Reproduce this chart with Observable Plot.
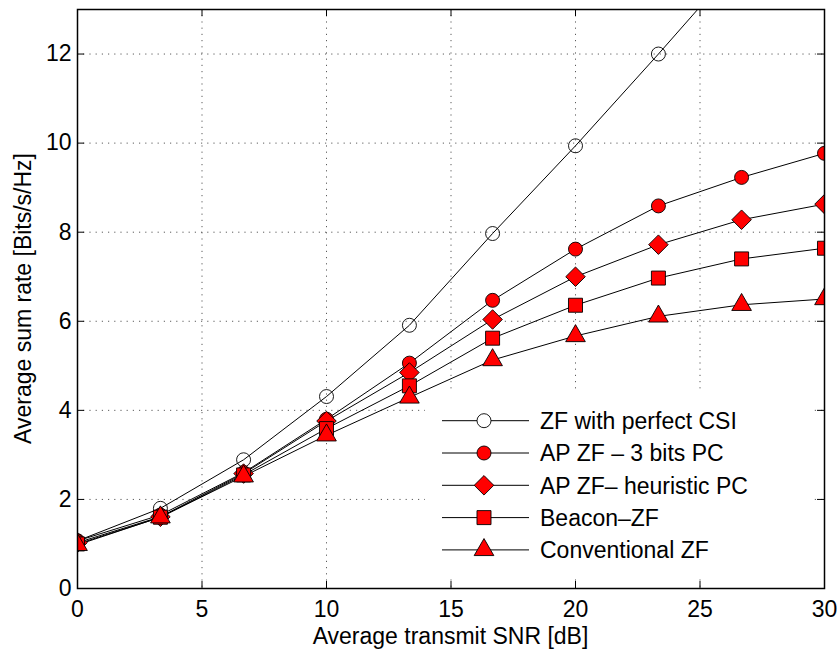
<!DOCTYPE html>
<html><head><meta charset="utf-8">
<script src="https://cdn.jsdelivr.net/npm/d3@7"></script>
<script src="https://cdn.jsdelivr.net/npm/@observablehq/plot@0.6"></script>
<style>
body{margin:0;background:#fff;}
#wrap{position:relative;width:839px;height:653px;font-family:"Liberation Sans",Arial,Helvetica,sans-serif;}
#legend{position:absolute;left:425px;top:393px;width:385px;height:184px;background:#fff;}
</style></head><body><div id="wrap"></div>
<script>
// ---- data ----
const snr = [0, 3.33, 6.67, 10, 13.33, 16.67, 20, 23.33, 26.67, 30];
const zfPerfect      = [1.07, 1.80, 2.89, 4.31, 5.91, 7.97, 9.94, 12.00, 14.12, 16.20];
const apZf3bits      = [1.07, 1.65, 2.60, 3.80, 5.06, 6.47, 7.62, 8.59, 9.23, 9.77];
const apZfHeuristic  = [1.03, 1.61, 2.58, 3.76, 4.85, 6.04, 7.00, 7.72, 8.28, 8.63];
const beaconZf       = [1.00, 1.60, 2.55, 3.59, 4.55, 5.62, 6.36, 6.97, 7.40, 7.64];
const conventionalZf = [0.98, 1.60, 2.52, 3.44, 4.29, 5.13, 5.67, 6.11, 6.37, 6.50];
const seriesNames = ["ZF with perfect CSI", "AP ZF \u2013 3 bits PC", "AP ZF\u2013 heuristic PC", "Beacon\u2013ZF", "Conventional ZF"];
const xTicks = [0, 5, 10, 15, 20, 25, 30];
const yTicks = [0, 2, 4, 6, 8, 10, 12];
const xLabel = "Average transmit SNR [dB]";
const yLabel = "Average sum rate [Bits/s/Hz]";

// ---- styles ----
const seriesValues = [zfPerfect, apZf3bits, apZfHeuristic, beaconZf, conventionalZf];
const styles = [
  {symbol: "circle",   r: 7,   fill: "none"},
  {symbol: "circle",   r: 7,   fill: "#ff0000"},
  {symbol: "diamond2", r: 8.8, fill: "#ff0000"},
  {symbol: "square",   r: 7.9, fill: "#ff0000"},
  {symbol: "triangle", r: 7.3, fill: "#ff0000"}
];
const rows = seriesNames.flatMap((name, k) => snr.map((x, i) => ({x, y: seriesValues[k][i], name})));

const W = 839, H = 653, mL = 77, mR = 15, mT = 9, mB = 65;
const innerH = H - mT - mB, innerW = W - mL - mR, tick = 7;
const font = "'Liberation Sans', Arial, Helvetica, sans-serif";
const fs = 23;

const marks = [
  Plot.gridX(xTicks, {stroke: "#333", strokeOpacity: 0.8, strokeDasharray: "1.2,5"}),
  Plot.gridY(yTicks, {stroke: "#333", strokeOpacity: 0.8, strokeDasharray: "1.2,5"}),
  // inward ticks on all four sides
  Plot.ruleX(xTicks, {stroke: "black", insetTop: innerH - tick}),
  Plot.ruleX(xTicks, {stroke: "black", insetBottom: innerH - tick}),
  Plot.ruleY(yTicks, {stroke: "black", insetRight: innerW - tick}),
  Plot.ruleY(yTicks, {stroke: "black", insetLeft: innerW - tick}),
  Plot.axisX(xTicks, {tickSize: 0, tickPadding: 12, label: null, fill: "black"}),
  Plot.axisY(yTicks, {tickSize: 0, tickPadding: 6, label: null, fill: "black"}),
  Plot.line(rows, {x: "x", y: "y", z: "name", stroke: "black", strokeWidth: 1, clip: true}),
  ...seriesNames.map((name, k) => Plot.dot(rows.filter(d => d.name === name), {
    x: "x", y: "y", symbol: styles[k].symbol, r: styles[k].r,
    fill: styles[k].fill, stroke: "black", strokeWidth: 0.9, clip: true
  })),
  Plot.frame({stroke: "black", strokeWidth: 1.5})
];

const chart = Plot.plot({
  width: W, height: H,
  marginLeft: mL, marginRight: mR, marginTop: mT, marginBottom: mB,
  x: {domain: [0, 30]},
  y: {domain: [0, 13]},
  style: {fontFamily: font, fontSize: fs + "px", color: "black", background: "white", overflow: "visible"},
  marks
});

const wrap = document.getElementById("wrap");
wrap.appendChild(chart);

// axis titles
const svg = d3.select(chart);
svg.append("text")
  .attr("x", mL + innerW / 2).attr("y", H - 9)
  .attr("text-anchor", "middle").attr("font-size", fs).attr("font-family", font).attr("fill", "black")
  .text(xLabel);
svg.append("text")
  .attr("transform", `translate(${31},${mT + innerH / 2}) rotate(-90)`)
  .attr("text-anchor", "middle").attr("font-size", fs).attr("font-family", font).attr("fill", "black")
  .text(yLabel);

// legend
const leg = d3.select(wrap).append("div").attr("id", "legend");
const lsvg = leg.append("svg").attr("width", 385).attr("height", 184);
seriesNames.forEach((name, k) => {
  const cy = 27.7 + k * 32.3;
  const g = lsvg.append("g");
  g.append("line").attr("x1", 17).attr("x2", 104).attr("y1", cy).attr("y2", cy)
    .attr("stroke", "black").attr("stroke-width", 1);
  const st = styles[k];
  const symType = {circle: d3.symbolCircle, diamond2: d3.symbolDiamond2, square: d3.symbolSquare, triangle: d3.symbolTriangle}[st.symbol];
  g.append("path").attr("d", d3.symbol(symType, Math.PI * st.r * st.r)())
    .attr("transform", `translate(59,${cy})`)
    .attr("fill", st.fill === "none" ? "white" : st.fill).attr("stroke", "black").attr("stroke-width", 0.9);
  g.append("text").attr("x", 115).attr("y", cy).attr("dy", "0.36em")
    .attr("font-size", fs).attr("font-family", font).attr("fill", "black").text(name);
});
</script></body></html>
